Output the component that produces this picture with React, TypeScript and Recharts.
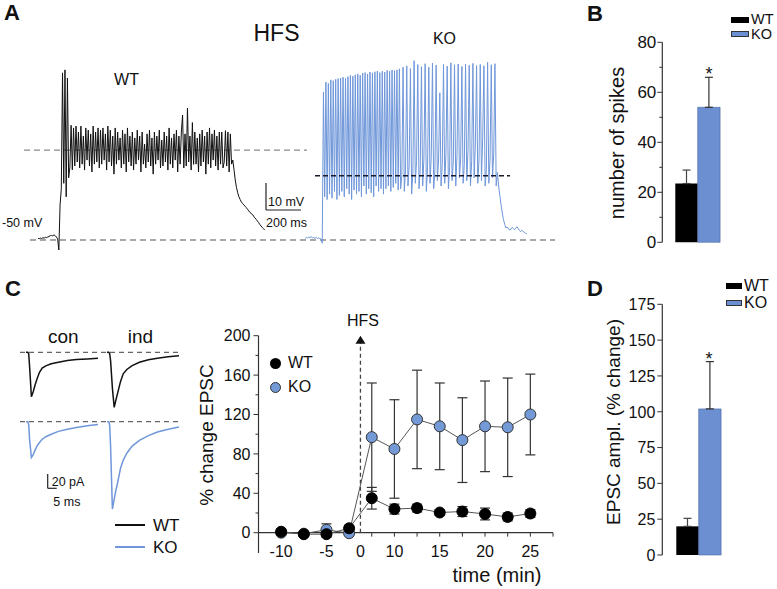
import React from 'react';
import { LineChart, Line, XAxis, YAxis, ReferenceLine, ReferenceDot, BarChart, Bar, ErrorBar } from 'recharts';

const FONT = '"Liberation Sans", Arial, Helvetica, sans-serif';
const BLUE_TRACE = '#6f97da';
const BLUE_FILL = '#6b8fd0';
const BLUE_DOT = '#7399d6';
const AXIS = '#333';

// ---------------- Panel A : membrane potential (mV), one sample per 7 ms ----------------
const vmSampleMs = 7;
const wtStartMs = 103;
const koStartMs = 1629;
const restMv = -50;
const wtPlateauMv = -16.7;
const koPlateauMv = -26.2;
const scaleBarMv = 10;
const scaleBarMs = 200;

const wtVm = [
  -49.4, -49.5, -49.3, -49.4, -49.2, -49.3, -49.0, -49.1, -48.9, -48.7, -48.4, -48.3, -48.5, -48.1, -48.4, -48.9, -49.6,
  -53.7,
  -37, -31, 11.9, -29, 13, -34, 10, -27, -23, -7.5, -24,
  -8.5, -22.6, -7.8, -21.1, -10, -23.3, -7.8, -21.9, -11.5, -24.1, -8.5, -20.4, -9.3, -22.6, -10.7, -24.8, -7.8, -21.9, -10, -21.1, -8.5, -23.3, -9.3,
  -21.9, -8.5, -20.4, -10.7, -24.1, -7.8, -21.1, -9.3, -22.6, -11.5, -25.6, -8.5, -21.9, -10, -20.4, -12.2, -23.3, -9.3, -21.9, -10.7, -24.8, -8.5, -21.1, -11.5, -22.6,
  -10, -24.1, -12.2, -21.9, -9.3, -20.4, -11.5, -24.8, -10, -21.9, -14.5, -23.3, -10.7, -21.1, -9.3, -22.6, -12.2, -25.6, -10, -21.9, -11.5, -20.4, -9.3, -23.3, -13,
  -22.6, -10, -21.1, -11.5, -24.1, -8.5, -21.9, -12.2, -23.3, -10.7, -20.4, -9.3, -24.8, -11.5, -21.9, -10, -3.7, -23.3, -10.7, -22.6, -1.1, -21.1, -11.5, -24.1, -6.5,
  -22, -10, -21.9, -12.2, -24.8, -10.7, -22.6, -9.3, -21.1, -11.5, -25.6, -10, -21.9, -8.5, -23.3, -10.7, -20.4, -9.3, -22.6, -11.5, -24.1, -10, -21.9, -10, -23.3,
  -21.1, -9.5, -22.6, -10, -24.8, -10.7, -21.9,
  -20.4, -24, -27.8, -30.5, -32.5, -34, -35, -35.9, -36.5, -37, -37.5, -38, -38.6, -39.2, -39.8, -40.2, -40.5, -41.2, -41.8, -42.3, -42.9, -43.5, -44.2, -44.8, -45.3, -45.8, -46.3,
];

const koVm = [
  -49.4, -49.1, -49.3, -48.9, -49.1, -48.8, -49.2, -49, -49.3, -49.1, -49.4, -49.2, -49.5, -49.6, -51.2,
  4.8, -34, 8.5, -35, 8, -33, 9.3, -34.5, 9, -32, 9.5, -35, 9.8, -33.5, 10, -32, 10.3, -34, 10, -31, 10.5, -33, 11, -35, 10.7, -31.5,
  11.2, -33, 11.5, -32, 11, -34, 11.8, -30, 12, -33, 11.5, -31, 12.2, -32.5, 11.9, -34, 12.3, -30, 12.6, -32, 12, -31, 12.5, -33, 12.2,
  -31, 12.8, -30, 12.5, -32, 13, -30.5, 12.7, -29, 13, -31.5, 13.4,
  -31, -26, 14, -32, -24, 14.5, -30, -22, 13.5, -33, -25, 16.4, -29, -21, 15, -31, -24, 14.2, -30, -20, 15.3, -32, -23, 14, -29, -19,
  15.5, -31, -24, 14.8, -28, -20, 4.5, -30, -22, 15, -29, -18, 14.4, -31, -23, 15.6, -28, -21, 14.9, -30, -19, 15.2, -27, -20, 14.3,
  -29, -22, 15.1, -28, -17, 14.7, -30, -21, 15.4, -27, -15, 14.6, -29, -20, 15, -28, -12, 14.5, -30, -24, 15.8, -29, -20, 14.9, -27,
  -18, 15.3, -30, -25,
  -30, -33.5, -37, -40, -42.5, -44.3, -45.5, -45.2, -45.8, -46.4, -45.9, -45.3, -45.7, -46.2, -45.6, -45.1, -45.8, -46.5, -46.9, -46.4,
  -46.8, -47.2, -47.5, -47.6,
];

// ---------------- Panel B : number of spikes ----------------
const groups = ['WT', 'KO'];
const spikeMean = [23.5, 54];
const spikeSem = [5.4, 12];
const spikeTicks = [0, 10, 20, 30, 40, 50, 60, 70, 80];

// ---------------- Panel C : EPSC traces (pA) ----------------
const epscMs = [0, 1, 1.5, 2, 3, 4, 5, 6, 7.5, 9, 11, 14, 18, 23, 28, 34, 40];
const wtConPa = [0, 0, -2, -20, -62, -55, -46, -38, -28, -22, -19, -16, -13.8, -11.6, -10.2, -9.2, -8.4];
const wtIndPa = [0, 0, -2, -12, -50, -77, -66, -56, -41, -30, -24, -18.5, -14, -10.3, -8.2, -6.3, -4.8];
const koConPa = [0, 0, -4, -25, -50, -46, -40, -34.5, -29, -24.5, -21, -17.5, -13.5, -10.5, -8, -5.5, -4];
const koIndPa = [0, 0, -5, -35, -122, -108, -95, -84, -65, -54, -44, -34, -26, -19.5, -14.5, -10.5, -7.3];
const indOffsetMs = 45;
const scaleBarPa = 20;
const scaleBarEpscMs = 5;

// ---------------- Panel C : time course ----------------
const tcMinutes = [-10, -7.5, -5, -2.5, 7.5, 10, 12.5, 15, 17.5, 20, 22.5, 25];
const tcWtMean = [1, -1.5, -1.5, 4.5, 35, 24, 25, 20.5, 21.5, 19, 16, 19.5];
const tcWtSem = [3, 2, 3, 3, 11, 5, 4, 3, 5, 6, 4, 4];
const tcKoMean = [0, -1, 3, -0.5, 97, 85, 115, 108, 94, 108, 107, 120];
const tcKoSem = [2, 2, 6, 2, 55, 50, 50, 44, 43, 46, 50, 41];
const tcTickMinutes = [-10, -5, 0, 10, 15, 20, 25];
const tcYTicks = [0, 20, 40, 60, 80, 100, 120, 140, 160, 180, 200];
const hfsPos = 3.5; // HFS delivered between last baseline and first post sample

// ---------------- Panel D : EPSC amplitude ----------------
const amplMean = [20, 102];
const amplSem = [5.6, 33];
const amplTicks = [0, 25, 50, 75, 100, 125, 150, 175];

// ---------------- helpers ----------------
type TxtProps = { x: number; y: number; size?: number; bold?: boolean; anchor?: 'start' | 'middle' | 'end'; rotate?: boolean; children: React.ReactNode };
const Txt = ({ x, y, size = 16, bold = false, anchor = 'middle', rotate = false, children }: TxtProps) => {
  const tx = anchor === 'middle' ? '-50%' : anchor === 'end' ? '-100%' : '0';
  return (
    <div
      style={{
        position: 'absolute',
        left: x,
        top: y,
        transform: `translate(${tx}, -50%)${rotate ? ' rotate(-90deg)' : ''}`,
        fontSize: size,
        fontWeight: bold ? 700 : 400,
        lineHeight: 1,
        whiteSpace: 'nowrap',
        color: '#111',
        fontFamily: FONT,
      }}
    >
      {children}
    </div>
  );
};

const Box = ({ x, y, w, h, fill, border }: { x: number; y: number; w: number; h: number; fill: string; border?: string }) => (
  <div
    style={{
      position: 'absolute',
      left: x,
      top: y,
      width: w,
      height: h,
      background: fill,
      boxSizing: 'border-box',
      border: border ? `1px solid ${border}` : 'none',
    }}
  />
);

const makeYTick = (major: number, size: number, gap: number) => (props: any) => {
  const { x, y, payload } = props;
  const v = payload.value as number;
  const isMajor = Math.abs(v % major) < 1e-6;
  return (
    <g>
      <line x1={x} x2={x - (isMajor ? 5 : 3)} y1={y} y2={y} stroke={AXIS} strokeWidth={1} />
      {isMajor && (
        <text x={x - gap} y={y} dy="0.36em" textAnchor="end" fontSize={size} fill="#111" fontFamily={FONT}>
          {v}
        </text>
      )}
    </g>
  );
};

const toSeries = (values: number[], start: number, step: number) => values.map((v, i) => ({ t: start + i * step, v }));
const toEpsc = (values: number[], offset: number) => values.map((v, i) => ({ t: epscMs[i] + offset, v }));

// ---------------- Panel A chart ----------------
const PanelATraces = () => {
  const pxPerMs = 35 / scaleBarMs;
  const pxPerMv = 27 / scaleBarMv;
  const width = 540;
  const height = 221;
  const topMv = restMv + 200 / pxPerMv;
  const bottomMv = restMv - 21 / pxPerMv;
  const msAt = (px: number) => (px - 20) / pxPerMs;
  const sbX = msAt(266);
  const sbY = restMv + (240 - 210) / pxPerMv;
  return (
    <div style={{ position: 'absolute', left: 20, top: 40 }}>
      <LineChart width={width} height={height} margin={{ top: 0, right: 0, bottom: 0, left: 0 }}>
        <XAxis type="number" dataKey="t" domain={[0, width / pxPerMs]} hide allowDataOverflow />
        <YAxis type="number" domain={[bottomMv, topMv]} hide allowDataOverflow />
        <ReferenceLine segment={[{ x: msAt(30), y: restMv }, { x: msAt(555), y: restMv }]} stroke="#8a8a8a" strokeDasharray="6 4" strokeWidth={1.3} />
        <ReferenceLine segment={[{ x: msAt(24), y: wtPlateauMv }, { x: msAt(307), y: wtPlateauMv }]} stroke="#8a8a8a" strokeDasharray="6 4" strokeWidth={1.3} />
        <Line data={toSeries(wtVm, wtStartMs, vmSampleMs)} dataKey="v" stroke="#111" strokeWidth={1} dot={false} isAnimationActive={false} />
        <Line data={toSeries(koVm, koStartMs, vmSampleMs)} dataKey="v" stroke={BLUE_TRACE} strokeWidth={1} dot={false} isAnimationActive={false} />
        <ReferenceLine segment={[{ x: msAt(315), y: koPlateauMv }, { x: msAt(510), y: koPlateauMv }]} stroke="#1a1a2a" strokeDasharray="5 3" strokeWidth={1.5} />
        <ReferenceLine segment={[{ x: sbX, y: sbY }, { x: sbX, y: sbY + scaleBarMv }]} stroke="#222" strokeWidth={1.2} />
        <ReferenceLine segment={[{ x: sbX, y: sbY }, { x: sbX + scaleBarMs, y: sbY }]} stroke="#222" strokeWidth={1.2} />
      </LineChart>
    </div>
  );
};

// ---------------- Panel C EPSC traces ----------------
const EpscRow = ({ top, height, baselineY, con, ind, color, scaleBar }: { top: number; height: number; baselineY: number; con: number[]; ind: number[]; color: string; scaleBar?: boolean }) => {
  const pxPerMs = 1.8;
  const pxPerPa = 0.716;
  const left = 20;
  const width = 165;
  const conStartPx = 26;
  const x0 = -(conStartPx - left) / pxPerMs;
  const x1 = x0 + width / pxPerMs;
  const yTop = (baselineY - top) / pxPerPa;
  const yBottom = -(top + height - baselineY) / pxPerPa;
  const sbT = (47.7 - conStartPx) / pxPerMs;
  const sbLow = -(488.3 - baselineY) / pxPerPa;
  return (
    <div style={{ position: 'absolute', left, top }}>
      <LineChart width={width} height={height} margin={{ top: 0, right: 0, bottom: 0, left: 0 }}>
        <XAxis type="number" dataKey="t" domain={[x0, x1]} hide allowDataOverflow />
        <YAxis type="number" domain={[yBottom, yTop]} hide allowDataOverflow />
        <ReferenceLine segment={[{ x: x0, y: 0 }, { x: x0 + 160 / pxPerMs, y: 0 }]} stroke="#666" strokeDasharray="5 4" strokeWidth={1.2} />
        <Line data={toEpsc(con, 0)} dataKey="v" stroke={color} strokeWidth={1.5} dot={false} isAnimationActive={false} />
        <Line data={toEpsc(ind, indOffsetMs)} dataKey="v" stroke={color} strokeWidth={1.5} dot={false} isAnimationActive={false} />
        {scaleBar && <ReferenceLine segment={[{ x: sbT, y: sbLow }, { x: sbT, y: sbLow + scaleBarPa }]} stroke="#222" strokeWidth={1.2} />}
        {scaleBar && <ReferenceLine segment={[{ x: sbT, y: sbLow }, { x: sbT + scaleBarEpscMs, y: sbLow }]} stroke="#222" strokeWidth={1.2} />}
      </LineChart>
    </div>
  );
};

// ---------------- Panel C time course ----------------
const TimeCourse = () => {
  const data = tcMinutes.map((m, i) => ({
    pos: i,
    minute: m,
    wt: tcWtMean[i],
    wtErr: tcWtSem[i],
    ko: tcKoMean[i],
    koErr: tcKoSem[i],
  }));
  const tickPos = tcTickMinutes.map((m) => {
    const idx = tcMinutes.indexOf(m);
    return idx >= 0 ? idx : hfsPos;
  });
  const labelAt = (p: number) => {
    const k = tickPos.findIndex((q) => Math.abs(q - p) < 1e-6);
    return k >= 0 ? String(tcTickMinutes[k]) : '';
  };
  const XTick = (props: any) => {
    const { x, y, payload } = props;
    return (
      <text x={x} y={y - 2} dy="0.36em" textAnchor="middle" fontSize={16} fill="#111" fontFamily={FONT}>
        {labelAt(payload.value)}
      </text>
    );
  };
  const minorPositions = Array.from({ length: 13 }, (_, i) => i);
  return (
    <div style={{ position: 'absolute', left: 190, top: 300 }}>
      <LineChart width={380} height={289} data={data} margin={{ top: 35.7, right: 17, bottom: 16, left: 8.5 }}>
        <XAxis
          type="number"
          dataKey="pos"
          domain={[-1, 12]}
          allowDataOverflow
          ticks={tickPos}
          axisLine={false}
          tickLine={false}
          tickSize={0}
          tickMargin={0}
          height={20}
          tick={XTick}
          interval={0}
        />
        <YAxis
          type="number"
          domain={[-20.6, 200]}
          allowDataOverflow
          ticks={tcYTicks}
          axisLine={{ stroke: AXIS, strokeWidth: 1.2 }}
          tickLine={false}
          tickSize={0}
          tickMargin={0}
          width={60}
          tick={makeYTick(40, 16, 8)}
          interval={0}
        />
        <ReferenceLine y={0} stroke={AXIS} strokeWidth={1.2} />
        {minorPositions.map((p) => (
          <ReferenceLine key={p} segment={[{ x: p, y: 0 }, { x: p, y: -4 }]} stroke={AXIS} strokeWidth={1} />
        ))}
        <ReferenceLine segment={[{ x: hfsPos, y: 0 }, { x: hfsPos, y: 193 }]} stroke="#444" strokeDasharray="4 3" strokeWidth={1.3} />
        <ReferenceDot
          x={hfsPos}
          y={200}
          r={5}
          shape={(p: any) => <path d={`M${p.cx},${p.cy} L${p.cx - 5},${p.cy + 8} L${p.cx + 5},${p.cy + 8} Z`} fill="#111" />}
        />
        <Line dataKey="ko" stroke="#555" strokeWidth={1} isAnimationActive={false} dot={{ r: 5.5, fill: BLUE_DOT, stroke: '#333', strokeWidth: 1 }}>
          <ErrorBar dataKey="koErr" width={5} stroke="#333" strokeWidth={1.2} direction="y" />
        </Line>
        <Line dataKey="wt" stroke="#555" strokeWidth={1} isAnimationActive={false} dot={{ r: 5.5, fill: '#000', stroke: '#000', strokeWidth: 1 }}>
          <ErrorBar dataKey="wtErr" width={5} stroke="#333" strokeWidth={1.2} direction="y" />
        </Line>
      </LineChart>
    </div>
  );
};

// ---------------- Bar panels ----------------
const BarPanel = ({ top, height, mean, sem, ticks, major, plotTop, plotBottom, plotRight, fontSize, gap }: { top: number; height: number; mean: number[]; sem: number[]; ticks: number[]; major: number; plotTop: number; plotBottom: number; plotRight: number; fontSize: number; gap: number }) => {
  const data = [
    {
      name: groups.join('/'),
      wt: mean[0],
      wtErr: [0, sem[0]],
      ko: mean[1],
      koErr: [0, sem[1]],
    },
  ];
  const left = 600;
  const width = 177;
  return (
    <div style={{ position: 'absolute', left, top }}>
      <BarChart
        width={width}
        height={height}
        data={data}
        barGap={0}
        margin={{ top: plotTop - top, right: width - (plotRight - left), bottom: top + height - plotBottom, left: 12.3 }}
      >
        <XAxis dataKey="name" tick={false} tickLine={false} height={0} axisLine={{ stroke: AXIS, strokeWidth: 1.2 }} />
        <YAxis
          type="number"
          domain={[ticks[0], ticks[ticks.length - 1]]}
          ticks={ticks}
          interval={0}
          width={50}
          axisLine={{ stroke: AXIS, strokeWidth: 1.2 }}
          tickLine={false}
          tickSize={0}
          tickMargin={0}
          tick={makeYTick(major, fontSize, gap)}
        />
        <Bar dataKey="wt" fill="#000" barSize={22.4} isAnimationActive={false}>
          <ErrorBar dataKey="wtErr" width={4} stroke="#444" strokeWidth={1.2} direction="y" />
        </Bar>
        <Bar dataKey="ko" fill={BLUE_FILL} stroke="#4a67a0" strokeWidth={0.6} barSize={22.4} isAnimationActive={false}>
          <ErrorBar dataKey="koErr" width={4} stroke="#333" strokeWidth={1.2} direction="y" />
        </Bar>
      </BarChart>
    </div>
  );
};

export default function App() {
  return (
    <div style={{ position: 'absolute', left: 0, top: 0, width: 777, height: 589, background: '#fff', overflow: 'hidden', fontFamily: FONT }}>
      {/* Panel A */}
      <Txt x={4} y={13} size={22} bold anchor="start">A</Txt>
      <Txt x={276.5} y={33} size={23}>HFS</Txt>
      <Txt x={126.5} y={79.5} size={16}>WT</Txt>
      <Txt x={444.5} y={39} size={16}>KO</Txt>
      <Txt x={2} y={223} size={12.5} anchor="start">-50 mV</Txt>
      <Txt x={268} y={201.5} size={12.5} anchor="start">10 mV</Txt>
      <Txt x={266} y={223} size={12.5} anchor="start">200 ms</Txt>
      <PanelATraces />

      {/* Panel B */}
      <Txt x={587} y={14} size={22} bold anchor="start">B</Txt>
      <Box x={731} y={16.5} w={18} h={6} fill="#000" />
      <Txt x={751} y={19.2} size={14.5} anchor="start">{groups[0]}</Txt>
      <Box x={731} y={31} w={18} h={6} fill={BLUE_FILL} border="#333" />
      <Txt x={751} y={34.3} size={14.5} anchor="start">{groups[1]}</Txt>
      <Txt x={617} y={142.5} size={20} rotate>number of spikes</Txt>
      <Txt x={709} y={74.3} size={18}>*</Txt>
      <BarPanel top={0} height={260} mean={spikeMean} sem={spikeSem} ticks={spikeTicks} major={20} plotTop={42.3} plotBottom={242.3} plotRight={733} fontSize={17} gap={6} />

      {/* Panel C */}
      <Txt x={5} y={289} size={22} bold anchor="start">C</Txt>
      <Txt x={63.3} y={336} size={19}>con</Txt>
      <Txt x={140.5} y={336} size={19}>ind</Txt>
      <EpscRow top={330} height={85} baselineY={352.3} con={wtConPa} ind={wtIndPa} color="#111" />
      <EpscRow top={405} height={115} baselineY={421.7} con={koConPa} ind={koIndPa} color={BLUE_TRACE} scaleBar />
      <Txt x={51.7} y={481.7} size={12.5} anchor="start">20 pA</Txt>
      <Txt x={53.3} y={501.7} size={12.5} anchor="start">5 ms</Txt>
      <Box x={115} y={524.3} w={30} h={1.5} fill="#111" />
      <Txt x={153} y={525} size={17} anchor="start">{groups[0]}</Txt>
      <Box x={115} y={546} w={30} h={1.5} fill={BLUE_TRACE} />
      <Txt x={153} y={546.7} size={17} anchor="start">{groups[1]}</Txt>

      <Txt x={206} y={435} size={19} rotate>% change EPSC</Txt>
      <Txt x={363} y={321} size={16}>HFS</Txt>
      <TimeCourse />
      <div style={{ position: 'absolute', left: 270.2, top: 357.8, width: 11, height: 11, borderRadius: 6, background: '#000' }} />
      <Txt x={288} y={363.3} size={16} anchor="start">{groups[0]}</Txt>
      <div style={{ position: 'absolute', left: 270.2, top: 381.8, width: 11, height: 11, borderRadius: 6, background: BLUE_DOT, boxSizing: 'border-box', border: '1px solid #333' }} />
      <Txt x={288} y={387.3} size={16} anchor="start">{groups[1]}</Txt>
      <Txt x={497} y={575} size={20}>time (min)</Txt>

      {/* Panel D */}
      <Txt x={587} y={289} size={22} bold anchor="start">D</Txt>
      <Box x={726} y={283.3} w={16} h={5.5} fill="#000" />
      <Txt x={744} y={286} size={16} anchor="start">{groups[0]}</Txt>
      <Box x={726} y={300} w={16} h={5.5} fill={BLUE_FILL} border="#333" />
      <Txt x={744} y={303} size={16} anchor="start">{groups[1]}</Txt>
      <Txt x={613} y={421.5} size={19} rotate>EPSC ampl. (% change)</Txt>
      <Txt x={709} y={359} size={18}>*</Txt>
      <BarPanel top={260} height={329} mean={amplMean} sem={amplSem} ticks={amplTicks} major={25} plotTop={304.3} plotBottom={555} plotRight={735} fontSize={16} gap={7} />
    </div>
  );
}
